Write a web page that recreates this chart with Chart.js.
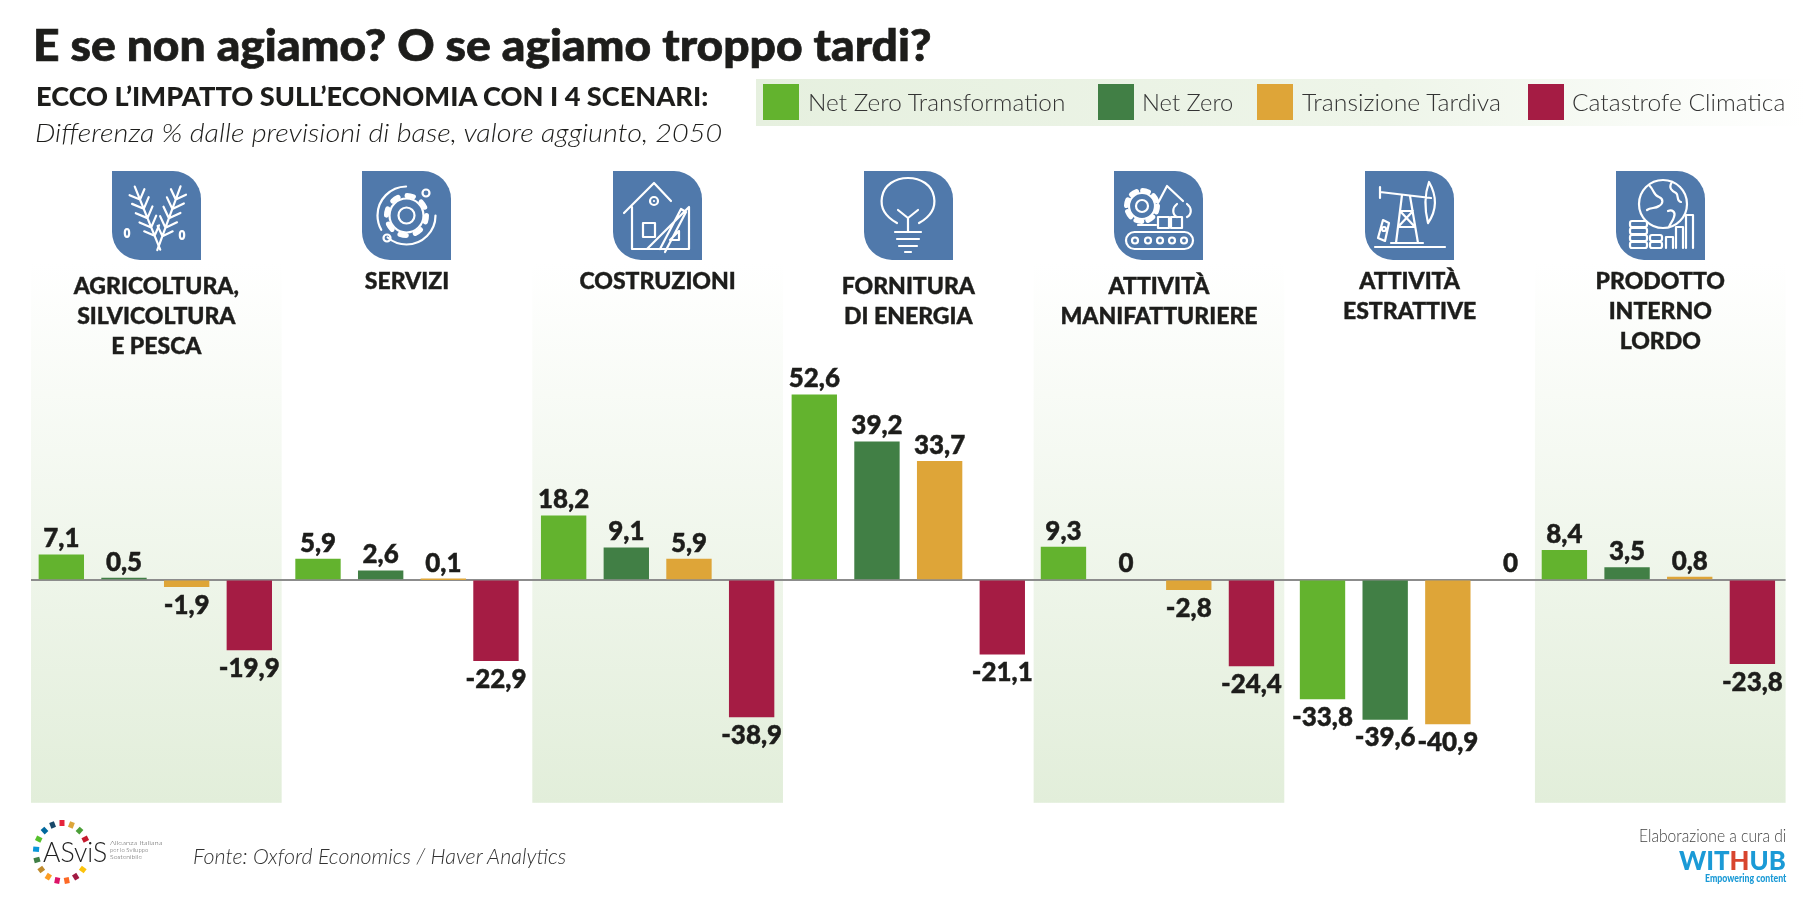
<!DOCTYPE html>
<html>
<head>
<meta charset="utf-8">
<title>E se non agiamo?</title>
<script src="https://cdn.jsdelivr.net/npm/chart.js@4"></script>
<style>
  html, body { margin: 0; background: #fff; }
  #page { position: relative; width: 1819px; height: 901px; overflow: hidden; font-family: Lato, sans-serif; color: #1d1d1b; }
  canvas { position: absolute; left: 0; top: 0; }
  .txt { position: absolute; white-space: nowrap; transform-origin: left center; line-height: 1; }
  .tile { position: absolute; top: 171px; width: 89px; height: 89px; }
  .tile path.bg { fill: #5079ab; stroke: none; }
  .tile g { fill: none; stroke: #fff; stroke-width: 2.2; stroke-linecap: round; stroke-linejoin: round; }
</style>
</head>
<body>
<div id="page">
  <div id="legendBand" style="position:absolute;left:756px;top:79px;width:1050px;height:47px;background:linear-gradient(90deg,#e6f0df 0%,#eef5e9 60%,#ffffff 100%)"></div>
  <canvas id="chart" width="1819" height="901"></canvas>

  <div class="txt" data-w="898" style="left:33px;top:23px;font-size:43px;font-weight:900;-webkit-text-stroke:0.7px #1d1d1b">E se non agiamo? O se agiamo troppo tardi?</div>
  <div class="txt" data-w="672" style="left:36px;top:82px;font-size:27px;font-weight:900">ECCO L’IMPATTO SULL’ECONOMIA CON I 4 SCENARI:</div>
  <div class="txt" data-w="687" style="left:35px;top:120px;font-size:25px;font-weight:300;font-style:italic">Differenza % dalle previsioni di base, valore aggiunto, 2050</div>

  <div class="txt" data-w="373" style="left:193px;top:845px;font-size:21px;font-style:italic;font-weight:300;color:#333">Fonte: Oxford Economics / Haver Analytics</div>
  <div class="txt" data-w="147" style="left:1639px;top:827px;font-size:17px;font-weight:300;color:#444">Elaborazione a cura di</div>
  <div class="txt" data-w="107" style="left:1679px;top:847px;font-size:26px;font-weight:900;color:#1b9ad6">WIT<span style="color:#d8452e">H</span>UB</div>
  <div class="txt" data-w="81" style="left:1705px;top:872px;font-size:11px;font-weight:900;color:#1b9ad6">Empowering content</div>

  <svg style="position:absolute;left:30px;top:818px" width="65" height="68" id="ring"></svg>
  <div class="txt" data-w="64" style="left:43px;top:838px;font-size:27px;font-weight:300;color:#222">ASviS</div>
  <div class="txt" data-w="52" style="left:110px;top:840px;font-size:6px;font-weight:300;color:#555">Alleanza Italiana</div>
  <div class="txt" data-w="38" style="left:110px;top:847px;font-size:6px;font-weight:300;color:#555">per lo Sviluppo</div>
  <div class="txt" data-w="32" style="left:110px;top:854px;font-size:6px;font-weight:300;color:#555">Sostenibile</div>
</div>

<script>
// data
const categories = [
  ['AGRICOLTURA,', 'SILVICOLTURA', 'E PESCA'],
  ['SERVIZI'],
  ['COSTRUZIONI'],
  ['FORNITURA', 'DI ENERGIA'],
  ['ATTIVITÀ', 'MANIFATTURIERE'],
  ['ATTIVITÀ', 'ESTRATTIVE'],
  ['PRODOTTO', 'INTERNO', 'LORDO']
];
const seriesNames = ['Net Zero Transformation', 'Net Zero', 'Transizione Tardiva', 'Catastrofe Climatica'];
const netZeroTransformation = [7.1, 5.9, 18.2, 52.6, 9.3, -33.8, 8.4];
const netZero = [0.5, 2.6, 9.1, 39.2, 0, -39.6, 3.5];
const transizioneTardiva = [-1.9, 0.1, 5.9, 33.7, -2.8, -40.9, 0.8];
const catastrofeClimatica = [-19.9, -22.9, -38.9, -21.1, -24.4, 0, -23.8];
const seriesValues = [netZeroTransformation, netZero, transizioneTardiva, catastrofeClimatica];

// styles and layout
const seriesColors = ['#63b32e', '#417f45', '#dea538', '#a51c44'];
const textColor = '#1d1d1b';
const labelFont = { family: 'Lato, sans-serif', size: 27, weight: '900' };
const tickFont = { family: 'Lato, sans-serif', size: 23, weight: '900', lineHeight: 30 / 23 };
// the picture's groups are not quite evenly spaced: shift per sector, in bar slots
const sectorShift = [-0.016, 0.08, 0, 0, -0.024, 0.11, -0.03];
const serviziLastShift = -0.08;
// some headers sit a little lower than the others
const lowHeader = [true, false, false, true, true, false, false];
const legendLeft = [763, 1098, 1257, 1528];
const legendTextLeft = [808, 1142, 1302, 1572];
const legendTextWidth = [257, 91, 199, 213];

function barX(sector, series) {
  let shift = sectorShift[sector];
  if (sector === 1 && series === 3) shift = serviziLastShift;
  return sector * 4 + series + 0.5 + shift;
}

// green bands behind every other sector
const bandsPlugin = {
  id: 'bands',
  beforeDraw(chart) {
    const ctx = chart.ctx, x = chart.scales.x, area = chart.chartArea;
    const top = 263;
    const grad = ctx.createLinearGradient(0, top, 0, area.bottom);
    grad.addColorStop(0, '#ffffff');
    grad.addColorStop(1, '#e2eeda');
    ctx.save();
    ctx.fillStyle = grad;
    for (let i = 0; i < categories.length; i += 2) {
      const left = x.getPixelForValue(i * 4);
      const right = x.getPixelForValue(i * 4 + 4);
      ctx.fillRect(left, top, right - left, area.bottom - top);
    }
    ctx.restore();
  }
};

// value over or under each bar, with an italian decimal comma
const valueLabelsPlugin = {
  id: 'valueLabels',
  afterDatasetsDraw(chart) {
    const ctx = chart.ctx;
    ctx.save();
    ctx.font = `${labelFont.weight} ${labelFont.size}px ${labelFont.family}`;
    ctx.fillStyle = textColor;
    ctx.strokeStyle = textColor;
    ctx.lineWidth = 0.5;
    ctx.textAlign = 'center';
    ctx.textBaseline = 'alphabetic';
    chart.data.datasets.forEach((ds, d) => {
      chart.getDatasetMeta(d).data.forEach((bar, i) => {
        const v = ds.data[i].y;
        const text = String(v).replace('.', ',');
        const y = v >= 0 ? bar.y - 7.5 : bar.y + 27;
        const w = ctx.measureText(text).width * 0.96;
        ctx.fillText(text, bar.x, y, w);
        ctx.strokeText(text, bar.x, y, w);
      });
    });
    ctx.restore();
  }
};

const headerAxis = (low, weight, height) => ({
  type: 'category',
  axis: 'x',
  position: 'top',
  labels: categories,
  offset: true,
  weight: weight,
  grid: { display: false, drawTicks: false },
  border: { display: false },
  ticks: {
    autoSkip: false,
    maxRotation: 0,
    minRotation: 0,
    padding: 0,
    mirror: true, // labels run down into the chart, under the icons
    crossAlign: 'far',
    color: textColor,
    textStrokeColor: textColor,
    textStrokeWidth: 0.4,
    font: tickFont,
    callback: (value, i) => (lowHeader[i] === low ? categories[i] : '')
  },
  afterFit: (scale) => { scale.height = height; }
});

const chart = new Chart(document.getElementById('chart'), {
  type: 'bar',
  data: {
    datasets: seriesValues.map((values, s) => ({
      label: seriesNames[s],
      data: values.map((v, i) => ({ x: barX(i, s), y: v })),
      // no sliver on the axis for the zero values
      backgroundColor: (ctx) => (ctx.raw && ctx.raw.y === 0 ? 'transparent' : seriesColors[s]),
      barThickness: 44.7,
      grouped: false,
      xAxisID: 'x',
      yAxisID: 'y'
    }))
  },
  options: {
    responsive: false,
    animation: false,
    layout: { padding: { top: 107, left: 31, right: 33.4, bottom: 98.2 } },
    plugins: { legend: { display: false }, tooltip: { enabled: false } },
    scales: {
      x: { type: 'linear', display: false, offset: false, min: 0, max: 28 },
      xHigh: headerAxis(false, 1, 100),
      xLow: headerAxis(true, 0, 5),
      y: {
        min: -63.3,
        max: 104.5,
        border: { display: false },
        ticks: { display: false, stepSize: 10 },
        grid: {
          drawTicks: false,
          lineWidth: 2,
          color: (ctx) => (ctx.tick.value === 0 ? '#8c8c8c' : 'transparent')
        }
      }
    }
  },
  plugins: [bandsPlugin, valueLabelsPlugin]
});

// legend built from the series
const page = document.getElementById('page');
seriesNames.forEach((name, s) => {
  const box = document.createElement('div');
  box.style.cssText = `position:absolute;left:${legendLeft[s]}px;top:84px;width:36px;height:36px;background:${seriesColors[s]}`;
  page.appendChild(box);
  const label = document.createElement('div');
  label.className = 'txt';
  label.dataset.w = legendTextWidth[s];
  label.style.cssText = `left:${legendTextLeft[s]}px;top:90px;font-size:24px;font-weight:300;color:#333`;
  label.textContent = name;
  page.appendChild(label);
});

// sector icons, simple line drawings on the blue tile
const tileShape = 'M0 0H61a28 28 0 0 1 28 28V89H28a28 28 0 0 1-28-28Z';
const stalk = '<path d="M0-22V46M-8-16l8 8 8-8M-9-7l9 9 9-9M-9 3l9 9 9-9M-9 13l9 9 9-9M-8 23l8 8 8-8"/>';
const sectorIcons = [
  `<g stroke-width="2.6"><g transform="translate(31,36) rotate(-22)">${stalk}</g><g transform="translate(61,36) rotate(20)">${stalk}</g></g><ellipse cx="15" cy="62" rx="2.2" ry="4"/><ellipse cx="70" cy="64" rx="2.2" ry="4"/>`,
  '<circle cx="44.5" cy="44.5" r="29" stroke-dasharray="66 10 60 46"/><circle cx="64" cy="22" r="3.5"/><circle cx="25" cy="67" r="3.5"/><circle cx="44.5" cy="44.5" r="17"/><circle cx="44.5" cy="44.5" r="20" stroke-width="5" stroke-dasharray="6.5 9.2"/><circle cx="44.5" cy="44.5" r="8"/>',
  '<path d="M11 42L41 12 58 30M19 36V78H40M30 52h12v14H30ZM41 30v0"/><circle cx="41" cy="30" r="4"/><path d="M76 36V78H34ZM66 60v9h-9ZM47 78L68 38l5 3-21 40"/>',
  '<path d="M33 52C22 46 16 37 18 26 20 14 31 7 44 7s24 7 26 19c2 11-4 20-15 26"/><path d="M34 39l10 8 10-8M44 47v14M31 61H57M33 68H55M35 75H53M41 81h6"/>',
  '<circle cx="28" cy="35" r="13"/><circle cx="28" cy="35" r="15.5" stroke-width="5" stroke-dasharray="6 6.2"/><circle cx="28" cy="35" r="6"/><path d="M44 32L53 15l16 15M63 33c-5 4-5 10 0 13M73 33c5 4 5 10 0 13M24 54h18"/><rect x="44" y="46" width="11" height="11"/><rect x="57" y="46" width="11" height="11"/><rect x="12" y="61" width="67" height="17" rx="8.5"/><circle cx="21" cy="69.500" r="3"/><circle cx="34" cy="69.500" r="3"/><circle cx="46" cy="69.500" r="3"/><circle cx="58" cy="69.500" r="3"/><circle cx="70" cy="69.500" r="3"/>',
  '<path d="M15 21L66 27M15 16V27M64 11c8 14 8 28-1 41 -3-12-4-27 1-41ZM37 24L31 72M45 25l8 47M35 40H48M33 56H50M35 40L50 56M48 40L33 56M10 76H80M26 72H58"/><path d="M18 49l6 3-4 18-7-3Z"/><circle cx="19" cy="58" r="2"/>',
  '<circle cx="47" cy="33" r="24"/><path d="M33 14c6 6 4 10 10 12 5 2 4 7 0 9-4 3-8 1-12 4M56 11c-4 6 0 9 4 11 3 2 0 8 5 9M52 40c4-2 8 1 6 6-1 4-3 5-5 10"/><rect x="14" y="50" width="17" height="6" rx="2"/><rect x="14" y="57" width="17" height="6" rx="2"/><rect x="14" y="64" width="17" height="6" rx="2"/><rect x="14" y="71" width="17" height="6" rx="2"/><rect x="34" y="64" width="12" height="6" rx="2"/><rect x="34" y="71" width="12" height="6" rx="2"/><path d="M50 77V66h7V77M60 77V56h7V77M70 77V44h7V77"/>'
];
categories.forEach((c, i) => {
  const left = chart.scales.xHigh.getPixelForTick(i) - 44.5;
  const svg = `<svg class="tile" style="left:${left}px" viewBox="0 0 89 89" width="89" height="89"><path class="bg" d="${tileShape}"/><g>${sectorIcons[i]}</g></svg>`;
  page.insertAdjacentHTML('beforeend', svg);
});

// small coloured ring of the logo
const ringColors = ['#e5243b', '#dda63a', '#4c9f38', '#c5192d', '#ff3a21', '#26bde2', '#fcc30b', '#a21942', '#fd6925', '#dd1367', '#fd9d24', '#bf8b2e', '#3f7e44', '#0a97d9', '#56c02b', '#00689d', '#19486a'];
let ring = '';
ringColors.forEach((c, i) => {
  const a = i / ringColors.length * Math.PI * 2 - Math.PI / 2;
  if (Math.abs(Math.cos(a)) > 0.9 && Math.cos(a) > 0) return;
  const x1 = 32 + Math.cos(a) * 23, y1 = 34 + Math.sin(a) * 26;
  const x2 = 32 + Math.cos(a) * 29, y2 = 34 + Math.sin(a) * 32;
  ring += `<line x1="${x1}" y1="${y1}" x2="${x2}" y2="${y2}" stroke="${c}" stroke-width="5"/>`;
});
document.getElementById('ring').innerHTML = ring;

// squeeze text to the width it has in the picture
document.querySelectorAll('.txt[data-w]').forEach((el) => {
  el.style.transform = `scaleX(${el.dataset.w / el.offsetWidth})`;
});
</script>
</body>
</html>
